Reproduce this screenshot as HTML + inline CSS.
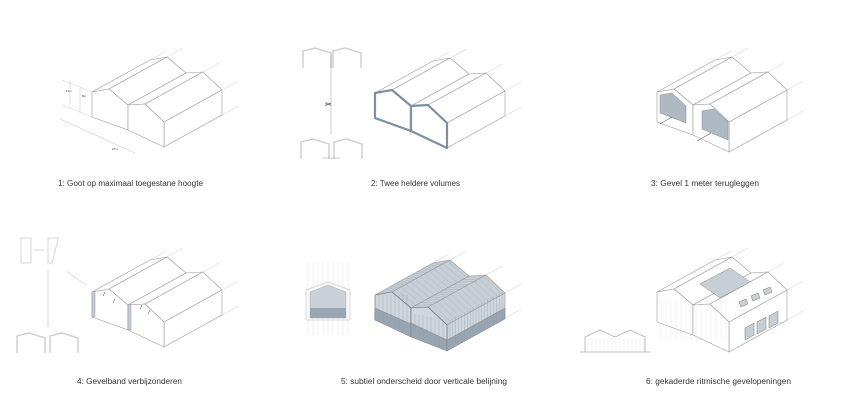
<!DOCTYPE html>
<html><head><meta charset="utf-8">
<style>
html,body{margin:0;padding:0;background:#fff;}
svg{display:block;}
text{font-family:"Liberation Sans",sans-serif;font-size:8px;fill:#333;}
</style></head>
<body>
<svg id="s" width="849" height="400" viewBox="0 0 849 400" xmlns="http://www.w3.org/2000/svg">
<text x="58" y="186" textLength="145" lengthAdjust="spacingAndGlyphs">1: Goot op maximaal toegestane hoogte</text>
<text x="371" y="186" textLength="89" lengthAdjust="spacingAndGlyphs">2: Twee heldere volumes</text>
<text x="651" y="186" textLength="108" lengthAdjust="spacingAndGlyphs">3: Gevel 1 meter terugleggen</text>
<text x="77" y="384" textLength="105" lengthAdjust="spacingAndGlyphs">4: Gevelband verbijzonderen</text>
<text x="341" y="384" textLength="166" lengthAdjust="spacingAndGlyphs">5: subtiel onderscheid door verticale belijning</text>
<text x="646" y="384" textLength="145" lengthAdjust="spacingAndGlyphs">6: gekaderde ritmische gevelopeningen</text>
<text x="66" y="92" style="font-size:3px">11m</text>
<text x="82" y="97" style="font-size:3px">8m</text>
<text x="112" y="150" style="font-size:3px">27m</text>
<text x="145" y="117" style="font-size:3px">27°</text>
<text x="406" y="95" style="font-size:14px;fill:#000">✂</text>
<text x="325" y="107" style="font-size:8px;fill:#000">✂</text>
</svg>
<script>
var s=document.getElementById('s');var NS='http://www.w3.org/2000/svg';
function el(t,a){var e=document.createElementNS(NS,t);for(var k in a)e.setAttribute(k,a[k]);s.appendChild(e);return e;}
function poly(pts,fill,stroke,sw){return el('polygon',{points:pts.map(function(p){return p[0]+','+p[1]}).join(' '),fill:fill||'#fff',stroke:stroke||'#999','stroke-width':sw||0.6,'stroke-linejoin':'round'});}
function line(a,b,c,w){return el('line',{x1:a[0],y1:a[1],x2:b[0],y2:b[1],stroke:c||'#bbb','stroke-width':w||0.5});}
function A(p,q,k){k=k==null?1:k;return [p[0]+q[0]*k,p[1]+q[1]*k];}
function lerp(p,q,t){return [p[0]+(q[0]-p[0])*t,p[1]+(q[1]-p[1])*t];}
function bld(ox,oy,o){
 o=o||{};var h=o.h||25,D=o.D||[58,-32];
 var g=[[0,0],[17,-3],[36,13],[53,12],[72,30]].map(function(p){return [p[0]+ox,p[1]+oy]});
 var H=[0,h];var rf=o.roof||'#fff';
 [0,1,3,4].forEach(function(i){line(A(g[i],D),A(g[i],D,1.28),'#ccc',0.5)});
 line(A(A(g[4],H),D),A(A(g[4],H),D,1.28),'#ccc',0.5);
 for(var i=0;i<4;i++){poly([g[i],g[i+1],A(g[i+1],D),A(g[i],D)],rf);
   if(o.stripes){for(var t=0.08;t<1;t+=0.08){line(lerp(g[i],A(g[i],D),t),lerp(g[i+1],A(g[i+1],D),t),'#9aa5b0',0.3);}}}
 var b4=A(g[4],H);
 poly([g[4],b4,A(b4,D),A(g[4],D)],o.side||'#fff');
 var fronts=[[g[0],g[1],g[2],A(g[2],H),A(g[0],H)],[g[2],g[3],g[4],A(g[4],H),A(g[2],H)]];
 fronts.forEach(function(f){poly(f,o.front||'#fff',o.fs||'#999',o.fw||0.6);});
 return {g:g,H:H,D:D,b4:b4};
}
var r=bld(92,92);
line([70,80],[70,105],'#bbb');line([80,88],[80,112],'#bbb');line([60,119],[135,153],'#bbb');
line([62,80],[92,92],'#ccc');line([62,105],[92,117],'#ccc');
var b=bld(375,93,{fs:'#7d8fa0',fw:2.2});
line([410,120],[410,135],'#999');
function gab(x,y,c){el('polyline',{points:[x,y+20,x,y+3,x+12,y,x+28,y+5,x+28,y+20].join(' '),fill:'none',stroke:c||'#ccc','stroke-width':1.4});}
gab(303,48);gab(333,48);gab(301,139);gab(334,139);
line([331,55],[331,135],'#999',0.5);line([322,158],[340,158],'#999',0.5);
var c=bld(657,92,{h:30});
poly([[660,95],[672,93],[686,106],[686,123],[660,113]],'#aeb9c3','#888',0.5);
poly([[702,111],[714,109],[728,122],[728,140],[702,129]],'#aeb9c3','#888',0.5);
line([660,124],[672,117],'#333',0.5);line([697,141],[711,133],'#333',0.5);
var d=bld(92,292);
poly([[92,292],[95,291],[95,317],[92,317]],'#c2ccd6','#888',0.4);
poly([[128,305],[131,304],[131,330],[128,330]],'#c2ccd6','#888',0.4);
el('rect',{x:21,y:238,width:10,height:25,fill:'none',stroke:'#ccc','stroke-width':0.8});
line([34,250],[44,250],'#ccc',0.8);
el('polygon',{points:'48,238 58,238 58,240 52,263 48,263',fill:'none',stroke:'#ccc','stroke-width':0.8});
line([48,270],[48,327],'#ccc',0.8);line([66,271],[86,285],'#bbb',0.5);
gab(17,333);gab(50,333);
[[103,296],[113,303],[140,309],[148,314]].forEach(function(p){line(p,[p[0]+2,p[1]-4],'#333',0.5)});
var e=bld(375,295,{roof:'#c6ced6',front:'#cfd6dd',side:'#cfd6dd',stripes:true,fs:'#666'});
poly([[375,308],[411,324],[411,337],[375,320]],'#98a6b3','#777',0.4);
poly([[411,323],[447,340],[447,351],[411,337]],'#98a6b3','#777',0.4);
poly([[447,340],[505,308],[505,319],[447,351]],'#98a6b3','#777',0.4);
for(var x=379;x<411;x+=4){line([x,295],[x,320+(x-375)*0.44],'#8b97a3',0.3);}
for(var x=415;x<447;x+=4){line([x,313+(x-411)*0.2],[x,337+(x-411)*0.4],'#8b97a3',0.3);}
for(var t=0.05;t<1;t+=0.05){var p=lerp([447,322],[505,290],t);line(p,[p[0],p[1]+29],'#8b97a3',0.3);}
for(var x=308;x<352;x+=5){line([x,262],[x,335],'#ddd',0.4);}
el('polygon',{points:'306,320 306,290 328,282 350,290 350,320',fill:'none',stroke:'#bbb','stroke-width':0.6});
el('polygon',{points:'310,318 310,292 328,285 346,292 346,318',fill:'#c9d0d7',stroke:'#999','stroke-width':0.4});
el('rect',{x:310,y:308,width:36,height:10,fill:'#9aa7b3'});
var f=bld(657,292,{h:30});
poly([[700,284],[730,268],[750,282],[720,298]],'#c6ced6','#888',0.5);
[[739,302],[751,296],[763,290]].forEach(function(p){poly([p,[p[0]+7,p[1]-3],[p[0]+9,p[1]+2],[p[0]+2,p[1]+5]],'#c6ced6','#777',0.5);});
[[745,328],[757,322],[769,316]].forEach(function(p){poly([p,[p[0]+9,p[1]-5],[p[0]+9,p[1]+7],[p[0],p[1]+12]],'#c6ced6','#777',0.5);});
for(var x=661;x<729;x+=5){line([x,300],[x,340],'#ccc',0.3);}
line([580,352],[650,352],'#888',0.6);
el('polyline',{points:'585,352 585,337 600,330 615,337 630,330 645,337 645,352',fill:'none',stroke:'#999','stroke-width':0.6});
for(var x=588;x<645;x+=4){line([x,338],[x,352],'#ccc',0.3);}
</script>
</body></html>
